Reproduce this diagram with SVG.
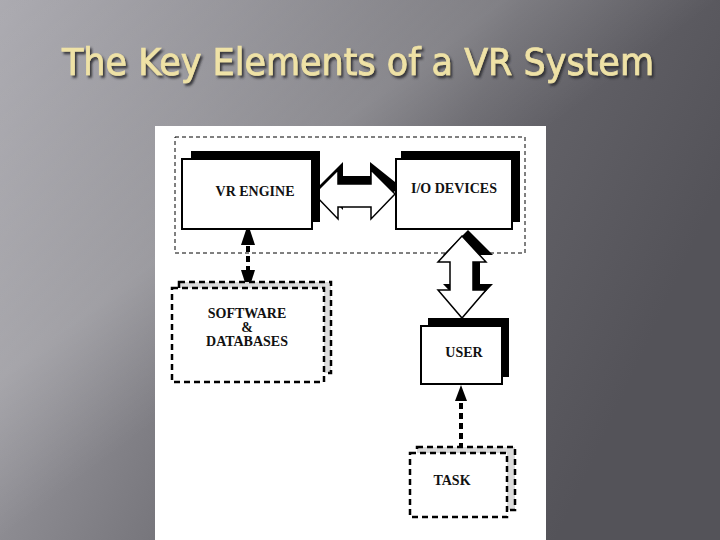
<svg xmlns="http://www.w3.org/2000/svg" width="720" height="540" viewBox="0 0 720 540">
<defs>
<linearGradient id="bg" x1="0" y1="0" x2="1" y2="0.35">
<stop offset="0" stop-color="#acabb1"/>
<stop offset="0.3" stop-color="#8e8d93"/>
<stop offset="0.65" stop-color="#66656b"/>
<stop offset="1" stop-color="#545359"/>
</linearGradient>
<linearGradient id="streak" x1="0" y1="0" x2="1" y2="1">
<stop offset="0" stop-color="#ffffff" stop-opacity="0"/>
<stop offset="0.35" stop-color="#ffffff" stop-opacity="0.16"/>
<stop offset="0.5" stop-color="#ffffff" stop-opacity="0"/>
<stop offset="1" stop-color="#ffffff" stop-opacity="0"/>
</linearGradient>
<filter id="ts" x="-5%" y="-20%" width="110%" height="150%">
<feDropShadow dx="2" dy="2.5" stdDeviation="0.8" flood-color="#2e2e32" flood-opacity="0.9"/>
</filter>
<style>
.lbl{font-family:"Liberation Serif","Times New Roman",serif;font-weight:bold;font-size:14px;fill:#111;text-anchor:middle}
.front{fill:#fff;stroke:#000;stroke-width:2}
.shadow{fill:#000}
.dfront{fill:#fff;stroke:#000;stroke-width:2.5;stroke-dasharray:6 4}
.dback{fill:#dcdcdc;stroke:#000;stroke-width:2.5;stroke-dasharray:6 4}
.dline{stroke:#000;stroke-width:4;stroke-dasharray:6 4;fill:none}
.title{font-family:"DejaVu Sans Condensed","DejaVu Sans",sans-serif;font-size:37px;fill:#efe2a6;stroke:#efe2a6;stroke-width:0.7}
</style>
</defs>
<rect width="720" height="540" fill="url(#bg)"/>
<rect width="720" height="540" fill="url(#streak)"/>
<text class="title" x="62" y="75" textLength="592" lengthAdjust="spacingAndGlyphs" filter="url(#ts)">The Key Elements of a VR System</text>
<rect x="155" y="126" width="391" height="414" fill="#fff"/>
<rect id="group-frame" x="175" y="137" width="350" height="116" fill="none" stroke="#000" stroke-width="1" stroke-dasharray="4 3"/>
<g id="connectors">
<polygon class="shadow" points="319,186 343,162 343,176 370,176 370,162 400,186 376,210 376,198 343,198 343,210"/>
<polygon fill="#fff" stroke="#000" stroke-width="1.5" points="314,194 338,170 338,184 371,184 371,170 395,194 371,219 371,207 338,207 338,219"/>
<polygon class="shadow" points="468,230 493,255 480,255 480,284 493,284 468,310 443,284 456,284 456,255 443,255"/>
<polygon fill="#fff" stroke="#000" stroke-width="1.5" points="462,236 486,262 473,262 473,290 486,290 462,318 438,290 450,290 450,262 438,262"/>
<polygon points="248,224 241,245 255,245" fill="#000"/>
<line class="dline" x1="248" y1="246" x2="248" y2="270" stroke-dasharray="4 5"/>
<polygon points="241,270 255,270 248,292" fill="#000"/>
<polygon points="461,385 455,401 467,401" fill="#000"/>
<line class="dline" x1="461" y1="403" x2="461" y2="447"/>
</g>
<g id="vr-engine">
<rect class="shadow" x="191" y="151" width="129" height="71"/>
<rect class="front" x="182" y="159" width="130" height="70"/>
<text class="lbl" x="255" y="196">VR ENGINE</text>
</g>
<g id="io-devices">
<rect class="shadow" x="401" y="151" width="119" height="71"/>
<rect class="front" x="396" y="159" width="116" height="70"/>
<text class="lbl" x="454" y="193">I/O DEVICES</text>
</g>
<g id="user">
<rect class="shadow" x="428" y="318" width="81" height="59"/>
<rect class="front" x="421" y="326" width="81" height="58"/>
<text class="lbl" x="464" y="357">USER</text>
</g>
<g id="software">
<rect class="dback" x="179" y="282" width="152" height="91"/>
<rect class="dfront" x="172" y="288" width="152" height="94"/>
<text class="lbl" x="247" y="318">SOFTWARE</text>
<text class="lbl" x="247" y="332">&amp;</text>
<text class="lbl" x="247" y="346">DATABASES</text>
</g>
<g id="task">
<rect class="dback" x="417" y="447" width="98" height="63"/>
<rect class="dfront" x="410" y="453" width="97" height="64"/>
<text class="lbl" x="452" y="485">TASK</text>
</g>
</svg>
